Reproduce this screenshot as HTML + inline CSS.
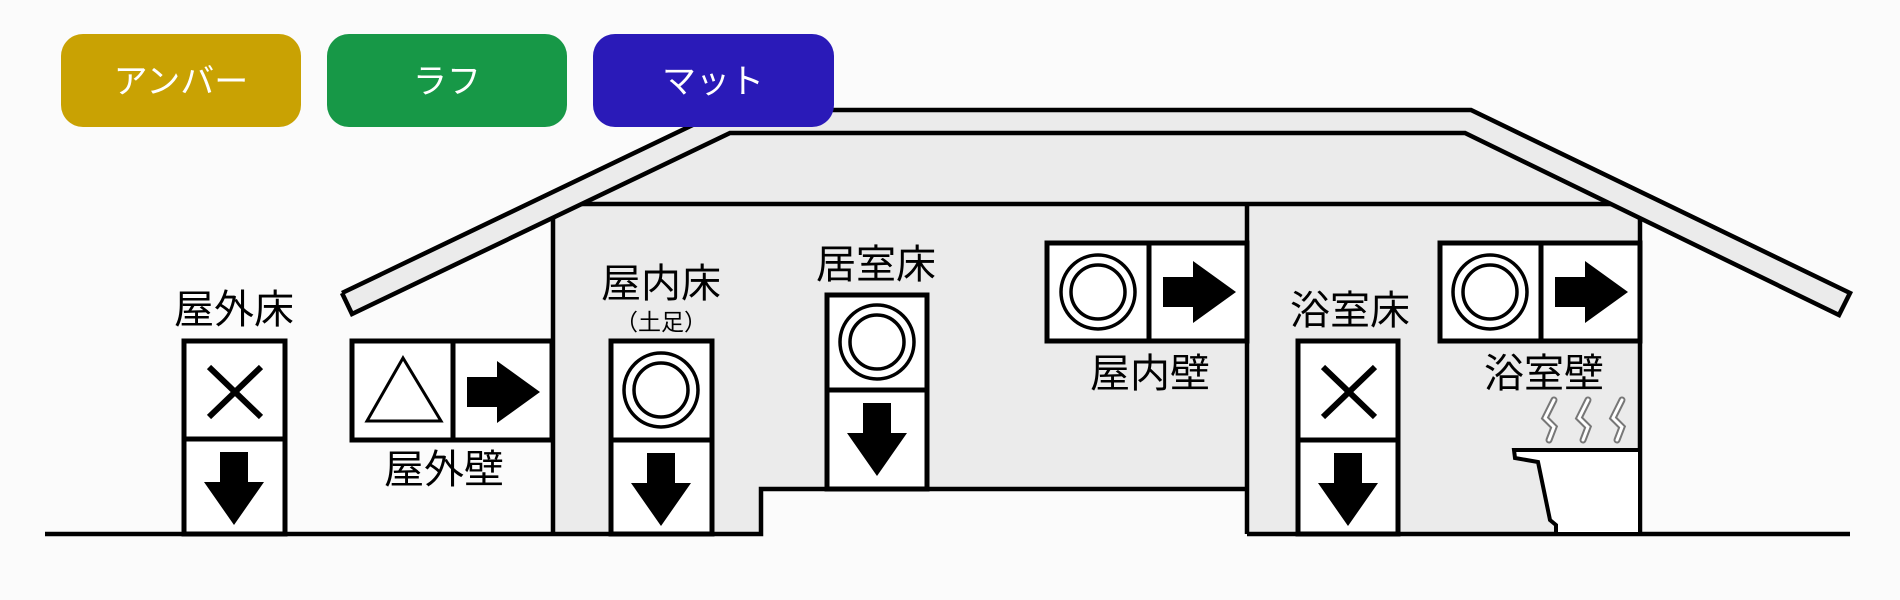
<!DOCTYPE html>
<html><head><meta charset="utf-8"><style>
html,body{margin:0;padding:0;background:#fbfbfb;}
svg{display:block;}
text{font-family:"Liberation Sans","Noto Sans CJK JP",sans-serif;}
</style></head><body>
<svg width="1900" height="600" viewBox="0 0 1900 600" xmlns="http://www.w3.org/2000/svg">
<rect width="1900" height="600" fill="#fbfbfb"/>
<polygon points="342,293 724,110 1471,110 1850,293 1839,315 1640,218 1640,534 1247,534 1247,489 761,489 761,534 553,534 553,218 352,314" fill="#ebebeb"/>
<g stroke="#000" stroke-width="4.5" fill="none" stroke-linejoin="miter">
<polyline points="342,293 724,110 1471,110 1850,293 1839,315 1465,133 730,133 352,314 342,293"/>
<line x1="582" y1="204" x2="1611" y2="204"/>
<line x1="553" y1="218" x2="553" y2="534"/>
<line x1="1640" y1="218" x2="1640" y2="534"/>
<line x1="1247" y1="204" x2="1247" y2="534"/>
<polyline points="45,534 761,534 761,489 1247,489"/>
<line x1="1247" y1="534" x2="1850" y2="534"/>
</g>
<polygon points="1514,450 1640,450 1640,534 1556,534 1556,525 1550,520 1538,462 1515,458" fill="#fff" stroke="#000" stroke-width="4"/>
<g fill="none" stroke="#777" stroke-width="7" stroke-linecap="round">
<polyline points="1554,400 1545,418 1554,427 1549,440"/>
<polyline points="1588,400 1579,418 1588,427 1583,440"/>
<polyline points="1622,400 1613,418 1622,427 1617,440"/>
</g>
<g fill="none" stroke="#fff" stroke-width="3" stroke-linecap="round">
<polyline points="1554,400 1545,418 1554,427 1549,440"/>
<polyline points="1588,400 1579,418 1588,427 1583,440"/>
<polyline points="1622,400 1613,418 1622,427 1617,440"/>
</g>
<g fill="#fff" stroke="#000" stroke-width="5">
<rect x="184" y="341" width="101" height="193"/>
<line x1="184" y1="439" x2="285" y2="439"/>
<rect x="352" y="341" width="200" height="99"/>
<line x1="453" y1="341" x2="453" y2="440"/>
<rect x="611" y="341" width="101" height="193"/>
<line x1="611" y1="440" x2="712" y2="440"/>
<rect x="827" y="295" width="100" height="194"/>
<line x1="827" y1="390" x2="927" y2="390"/>
<rect x="1047" y="243" width="200" height="98"/>
<line x1="1149" y1="243" x2="1149" y2="341"/>
<rect x="1298" y="341" width="100" height="193"/>
<line x1="1298" y1="440" x2="1398" y2="440"/>
<rect x="1440" y="243" width="200" height="98"/>
<line x1="1541" y1="243" x2="1541" y2="341"/>
</g>
<g stroke="#000" stroke-width="6">
<line x1="209" y1="367" x2="261" y2="417"/><line x1="261" y1="367" x2="209" y2="417"/>
<line x1="1323" y1="367" x2="1375" y2="417"/><line x1="1375" y1="367" x2="1323" y2="417"/>
</g>
<polygon points="403,358 367,421 441,421" fill="none" stroke="#000" stroke-width="3"/>
<g fill="none" stroke="#000" stroke-width="3.5">
<circle cx="661" cy="390" r="37"/><circle cx="661" cy="390" r="27"/>
<circle cx="877" cy="342" r="37"/><circle cx="877" cy="342" r="27"/>
<circle cx="1098" cy="292" r="37"/><circle cx="1098" cy="292" r="27"/>
<circle cx="1490" cy="292" r="37"/><circle cx="1490" cy="292" r="27"/>
</g>
<g fill="#000">
<polygon points="220,452 248,452 248,482 264,482 234,525 204,482 220,482"/>
<polygon points="647,453 675,453 675,483 691,483 661,526 631,483 647,483"/>
<polygon points="863,403 891,403 891,433 907,433 877,476 847,433 863,433"/>
<polygon points="1334,453 1362,453 1362,483 1378,483 1348,526 1318,483 1334,483"/>
<polygon points="467,377 497,377 497,361 540,392 497,423 497,407 467,407"/>
<polygon points="1163,277 1193,277 1193,261 1236,292 1193,323 1193,307 1163,307"/>
<polygon points="1555,277 1585,277 1585,261 1628,292 1585,323 1585,307 1555,307"/>
</g>
<g font-size="40" fill="#000" text-anchor="middle">
<text x="234" y="323">屋外床</text>
<text x="444" y="483">屋外壁</text>
<text x="661" y="297">屋内床</text>
<text x="876" y="278">居室床</text>
<text x="1150" y="387">屋内壁</text>
<text x="1350" y="324">浴室床</text>
<text x="1544" y="387">浴室壁</text>
</g>
<text x="661" y="330" font-size="23" text-anchor="middle" fill="#000">（土足）</text>
<rect x="61" y="34" width="240" height="93" rx="22" fill="#c9a203"/>
<rect x="327" y="34" width="240" height="93" rx="22" fill="#179847"/>
<rect x="593" y="34" width="241" height="93" rx="22" fill="#2a1ab8"/>
<g font-size="34" fill="#fff" text-anchor="middle">
<text x="181" y="93">アンバー</text>
<text x="447" y="93">ラフ</text>
<text x="713" y="93">マット</text>
</g>
</svg>
</body></html>
